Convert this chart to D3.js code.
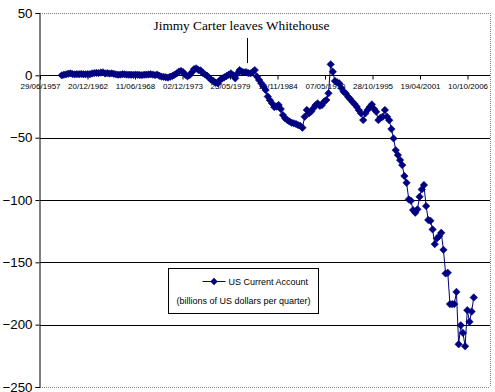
<!DOCTYPE html>
<html>
<head>
<meta charset="utf-8">
<script src="https://cdn.jsdelivr.net/npm/d3@7"></script>
<style>
  html, body { margin: 0; padding: 0; background: #fff; }
  svg { display: block; }
</style>
</head>
<body>
<svg id="chart" width="495" height="392"></svg>
<script>
// ---------------- data ----------------
const firstQuarter = "1960-01-01";
// US current account, billions of US dollars per quarter, 1960Q1 .. 2007Q3
const values = [
  0.0, 0.5, 0.8, 1.3,      1.6, 1.0, 0.8, 1.0,      0.9, 1.1, 0.9, 0.8,
  1.0, 0.9, 1.5, 1.8,      2.0, 1.8, 2.2, 2.4,      1.5, 1.8, 1.4, 1.6,
  1.2, 0.8, 0.5, 0.6,      0.9, 0.8, 0.6, 0.5,      0.5, 0.4, 0.6, 0.5,
  0.3, 0.2, 0.5, 0.6,      0.7, 0.9, 0.6, 0.2,      0.6, -0.3, -1.0, -1.2,
  -1.5, -1.8, -1.1, -0.5,  0.5, 1.5, 3.0, 3.5,      2.5, 0.5, -0.8, 0.2,
  2.5, 5.0, 5.6, 4.3,      4.0, 2.0, 0.8, -0.3,     -2.0, -3.8, -4.5, -6.0,
  -6.4, -3.8, -2.5, -1.5,  -0.5, 0.5, 1.6, 0.0,     -2.4, 1.5, 4.2, 3.0,
  2.4, 2.6, 1.8, 1.6,      2.5, 4.2, -1.0, -3.8,    -6.4, -9.0, -11.8, -17.0,
  -20.0, -22.5, -25.5, -25.0, -23.8, -27.0, -31.9, -34.5, -35.9, -37.0, -38.0, -38.5,
  -39.0, -39.9, -40.5, -42.0, -33.2, -27.8, -30.5, -29.0, -26.5, -24.0, -22.5, -24.5,
  -23.8, -21.0, -19.8, -14.4, 8.8, 2.9, -4.6, -5.6,  -6.5, -10.4, -13.2, -14.5,
  -17.2, -19.0, -21.2, -23.0, -25.2, -28.0, -30.5, -35.9, -30.5, -27.8, -25.5, -23.3,
  -27.0, -29.2, -35.9, -34.0, -33.2, -27.8, -33.2, -36.0, -43.1, -50.6, -60.0, -64.0,
  -68.0, -72.0, -80.8, -86.2, -99.5, -100.6, -108.1, -110.2, -107.5, -97.4, -91.5, -88.0,
  -104.9, -116.0, -116.7, -123.6, -135.4, -130.8, -129.0, -126.3, -140.0, -158.9, -158.4, -183.5,
  -183.5, -183.5, -173.7, -215.7, -200.5, -206.6, -217.3, -188.4, -197.7, -189.5, -178.2
];
const xTickLabels = ["29/06/1957","20/12/1962","11/06/1968","02/12/1973","25/05/1979",
                     "14/11/1984","07/05/1990","28/10/1995","19/04/2001","10/10/2006"];
const xAxisMin = "1957-06-29";
const xAxisMax = "2009-05-14";
const yTicks = [50, 0, -50, -100, -150, -200, -250];
const yGrid = [-50, -100, -150, -200];
const seriesName = "US Current Account";
const unitNote = "(billions of US dollars per quarter)";
const annotationText = "Jimmy Carter leaves Whitehouse";
const annotationDate = "1981-05-15";

// ---------------- setup ----------------
const parseISO = d3.timeParse("%Y-%m-%d");
const parseDMY = d3.timeParse("%d/%m/%Y");
const start = parseISO(firstQuarter);
const data = values.map((v, i) => ({ date: d3.timeMonth.offset(start, 3 * i), value: v }));

const L = 40, R = 490, T = 13, B = 387;
const svg = d3.select("#chart");
const NAVY = "#000080";

const x = d3.scaleTime().domain([parseISO(xAxisMin), parseISO(xAxisMax)]).range([L, R]);
const y = d3.scaleLinear().domain([-250, 50]).range([B, T]);

// plot frame (dotted top/right/bottom)
const frame = svg.append("g");
frame.append("line").attr("x1", L).attr("x2", R).attr("y1", y(50) + 0.5).attr("y2", y(50) + 0.5)
  .attr("stroke", "#808080").attr("stroke-dasharray", "1,1");
frame.append("line").attr("x1", L).attr("x2", R).attr("y1", y(-250) + 0.5).attr("y2", y(-250) + 0.5)
  .attr("stroke", "#808080").attr("stroke-dasharray", "1,1");
frame.append("line").attr("x1", R + 0.5).attr("x2", R + 0.5).attr("y1", T).attr("y2", B)
  .attr("stroke", "#808080").attr("stroke-dasharray", "1,1");

// gridlines
svg.append("g").selectAll("line").data(yGrid).join("line")
  .attr("x1", L).attr("x2", R)
  .attr("y1", d => Math.round(y(d)) + 0.5).attr("y2", d => Math.round(y(d)) + 0.5)
  .attr("stroke", "#000").attr("stroke-width", 1);

// y axis
const yAxis = d3.axisLeft(y).tickValues(yTicks).tickSize(4).tickPadding(3).tickFormat(d3.format("d"));
const gy = svg.append("g").attr("transform", `translate(${L - 0.5},0)`).call(yAxis);
gy.select(".domain").attr("stroke", "#000");
gy.selectAll(".tick line").attr("stroke", "#000");
gy.selectAll(".tick text").attr("font-family", "Liberation Sans, Arial, sans-serif")
  .attr("font-size", "13.3px").attr("fill", "#000");

// x axis at zero
const xTickDates = xTickLabels.map(parseDMY);
const xAxis = d3.axisBottom(x).tickValues(xTickDates).tickSize(4).tickPadding(4)
  .tickFormat((d, i) => xTickLabels[i]);
const gx = svg.append("g").attr("transform", `translate(0,${Math.round(y(0)) + 0.5})`).call(xAxis);
gx.select(".domain").attr("stroke", "#000").attr("d", `M${L},0H${R}`);
gx.selectAll(".tick line").attr("stroke", "#000");
gx.selectAll(".tick text").attr("font-family", "Liberation Sans, Arial, sans-serif")
  .attr("font-size", "8px").attr("fill", "#000");

// annotation
const ax = Math.round(x(parseISO(annotationDate))) + 0.5;
svg.append("line").attr("x1", ax).attr("x2", ax).attr("y1", 38).attr("y2", 63)
  .attr("stroke", "#000");
svg.append("text").attr("x", ax - 6).attr("y", 29.5).attr("text-anchor", "middle")
  .attr("font-family", "Liberation Serif, 'Times New Roman', serif").attr("font-size", "13.3px")
  .text(annotationText);

// series line
const line = d3.line().x(d => x(d.date)).y(d => y(d.value));
svg.append("path").datum(data).attr("d", line)
  .attr("fill", "none").attr("stroke", NAVY).attr("stroke-width", 1);

// diamond markers
const diamond = "M0,-3.7L3.7,0L0,3.7L-3.7,0Z";
svg.append("g").selectAll("path").data(data).join("path")
  .attr("d", diamond)
  .attr("transform", d => `translate(${x(d.date)},${y(d.value)})`)
  .attr("fill", NAVY).attr("stroke", NAVY).attr("stroke-width", 0.6);

// legend
const lg = svg.append("g").attr("transform", "translate(168.5,268.5)");
lg.append("rect").attr("width", 150).attr("height", 45).attr("fill", "#fff").attr("stroke", "#000");
lg.append("line").attr("x1", 34).attr("x2", 57).attr("y1", 13).attr("y2", 13).attr("stroke", NAVY);
lg.append("path").attr("d", diamond).attr("transform", "translate(45.5,13)").attr("fill", NAVY);
lg.append("text").attr("x", 60).attr("y", 16.5)
  .attr("font-family", "Liberation Sans, Arial, sans-serif").attr("font-size", "9px")
  .text(seriesName);
lg.append("text").attr("x", 75).attr("y", 35).attr("text-anchor", "middle")
  .attr("font-family", "Liberation Sans, Arial, sans-serif").attr("font-size", "9px")
  .text(unitNote);
</script>
</body>
</html>
